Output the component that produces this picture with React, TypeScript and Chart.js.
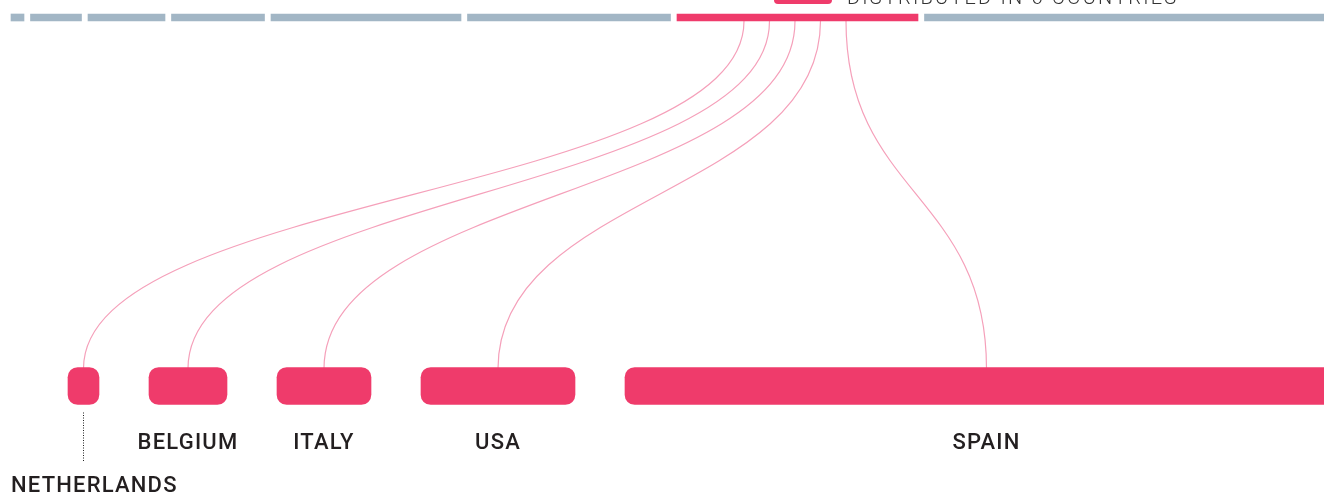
import React, { useEffect, useRef } from "react";
import { Chart, registerables } from "chart.js";

Chart.register(...registerables);

// ---- data ----
const TOP_SEGMENTS = [13, 51, 77, 93, 190, 203, 241, 420];
const HIGHLIGHT_INDEX = 6;
const COUNTRIES = ["NETHERLANDS", "BELGIUM", "ITALY", "USA", "SPAIN"];
const COUNTRY_VALUES = [31, 78, 94, 154, 723];
const LEGEND_TEXT = "DISTRIBUTED IN 6 COUNTRIES";

// ---- layout / style ----
const W = 1324;
const H = 494;
const TOP_START = 11;
const TOP_GAP = 6.5;
const BOTTOM_START = 68;
const BOTTOM_GAP = 50;
const TOP_ROW_Y = 17.5;
const BOTTOM_ROW_Y = 386;
const TOP_THICK = 7;
const BOTTOM_THICK = 37;
const LINK_SPACING = 25.5;
const LINK_SHIFT = -2.5;
const PINK = "#EF3B6B";
const GREY = "#A2B6C5";
const LINK_COLOR = "#F5A0BA";
const TEXT_COLOR = "#231F20";
const LABEL_FONT = "500 22px Roboto";

function spans(values: number[], start: number, gap: number): [number, number][] {
  let s = start;
  return values.map((v) => {
    const r: [number, number] = [s, s + v];
    s += v + gap;
    return r;
  });
}

const topSpans = spans(TOP_SEGMENTS, TOP_START, TOP_GAP);
const bottomSpans = spans(COUNTRY_VALUES, BOTTOM_START, BOTTOM_GAP);

const overlayPlugin = {
  id: "overlay",
  beforeDatasetsDraw(chart: any) {
    const ctx = chart.ctx as CanvasRenderingContext2D;
    const xs = chart.scales.x;
    const ys = chart.scales.y;
    const hl = topSpans[HIGHLIGHT_INDEX];
    const cx = xs.getPixelForValue((hl[0] + hl[1]) / 2) + LINK_SHIFT;
    const y0 = ys.getPixelForValue(TOP_ROW_Y) + TOP_THICK / 2;
    const y1 = ys.getPixelForValue(BOTTOM_ROW_Y) - BOTTOM_THICK / 2;
    const ym = (y0 + y1) / 2;
    const n = bottomSpans.length;
    ctx.save();
    ctx.strokeStyle = LINK_COLOR;
    ctx.lineWidth = 1.2;
    bottomSpans.forEach((sp, i) => {
      const x0 = cx + (i - (n - 1) / 2) * LINK_SPACING;
      const x1 = xs.getPixelForValue((sp[0] + sp[1]) / 2);
      ctx.beginPath();
      ctx.moveTo(x0, y0);
      ctx.bezierCurveTo(x0, ym, x1, ym, x1, y1 + 1);
      ctx.stroke();
    });
    ctx.restore();
  },
  afterDatasetsDraw(chart: any) {
    const ctx = chart.ctx as CanvasRenderingContext2D;
    const xs = chart.scales.x;
    const ys = chart.scales.y;
    const barBottom = ys.getPixelForValue(BOTTOM_ROW_Y) + BOTTOM_THICK / 2;
    ctx.save();
    ctx.fillStyle = TEXT_COLOR;
    ctx.font = LABEL_FONT;
    (ctx as any).letterSpacing = "1.2px";
    ctx.textBaseline = "alphabetic";
    bottomSpans.forEach((sp, i) => {
      const cxp = xs.getPixelForValue((sp[0] + sp[1]) / 2);
      if (i === 0) {
        ctx.save();
        ctx.strokeStyle = "#222";
        ctx.lineWidth = 1;
        ctx.setLineDash([1, 1.5]);
        ctx.beginPath();
        ctx.moveTo(Math.round(cxp) - 0.5, barBottom + 8);
        ctx.lineTo(Math.round(cxp) - 0.5, barBottom + 57);
        ctx.stroke();
        ctx.restore();
        ctx.textAlign = "left";
        ctx.fillText(COUNTRIES[i], xs.getPixelForValue(TOP_START), barBottom + 87);
      } else {
        ctx.textAlign = "center";
        ctx.fillText(COUNTRIES[i], cxp, barBottom + 44);
      }
    });
    const legendX = 847;
    ctx.font = "300 20px Roboto";
    (ctx as any).letterSpacing = "2.2px";
    ctx.textAlign = "left";
    ctx.fillStyle = "#333";
    ctx.fillText(LEGEND_TEXT, legendX, 3.5);
    ctx.fillStyle = PINK;
    ctx.beginPath();
    (ctx as any).roundRect(legendX - 73, -10, 58, 14, 4);
    ctx.fill();
    ctx.restore();
  },
};

export default function App() {
  const ref = useRef<HTMLCanvasElement | null>(null);
  useEffect(() => {
    document.body.style.margin = "0";
    if (!ref.current) return;
    const chart = new Chart(ref.current, {
      type: "bar",
      data: {
        datasets: [
          {
            data: topSpans.map((r) => ({ x: r, y: TOP_ROW_Y })) as any,
            backgroundColor: TOP_SEGMENTS.map((_, i) => (i === HIGHLIGHT_INDEX ? PINK : GREY)),
            barThickness: TOP_THICK,
            borderRadius: 0,
            borderSkipped: false,
            grouped: false,
          } as any,
          {
            data: bottomSpans.map((r) => ({ x: r, y: BOTTOM_ROW_Y })) as any,
            backgroundColor: PINK,
            barThickness: BOTTOM_THICK,
            borderRadius: 10,
            borderSkipped: false,
            grouped: false,
          } as any,
        ],
      },
      options: {
        indexAxis: "y",
        responsive: false,
        animation: false,
        layout: { padding: 0 },
        scales: {
          x: { type: "linear", min: 0, max: W, display: false, offset: false },
          y: { type: "linear", min: 0, max: H, reverse: true, display: false, offset: false },
        },
        plugins: { legend: { display: false }, tooltip: { enabled: false } },
      },
      plugins: [overlayPlugin],
    });
    return () => chart.destroy();
  }, []);
  return (
    <div style={{ width: W, height: H, background: "#fff" }}>
      <canvas ref={ref} width={W} height={H} style={{ display: "block" }} />
    </div>
  );
}
